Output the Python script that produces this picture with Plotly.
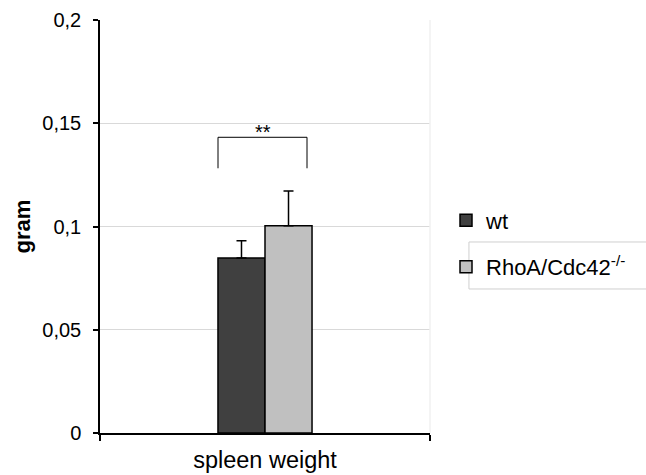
import plotly.graph_objects as go

categories = ["spleen weight"]
series_names = ["wt", "RhoA/Cdc42<sup>-/-</sup>"]
wt_values = [0.0847]
wt_errors = [0.0084]
ko_values = [0.1004]
ko_errors = [0.0168]
y_ticks = [0, 0.05, 0.1, 0.15, 0.2]
significance = "**"

FONT = "Liberation Sans, Arial, sans-serif"

fig = go.Figure()
fig.add_trace(go.Bar(
    x=categories, y=wt_values, name=series_names[0], legendgroup="a",
    marker=dict(color="#404040", line=dict(color="black", width=1.5)),
    error_y=dict(type="data", array=wt_errors, color="black", thickness=1.5, width=5, symmetric=False, arrayminus=[0]),
))
fig.add_trace(go.Bar(
    x=categories, y=ko_values, name=series_names[1], legendgroup="b",
    marker=dict(color="#c0c0c0", line=dict(color="black", width=1.5)),
    error_y=dict(type="data", array=ko_errors, color="black", thickness=1.5, width=5, symmetric=False, arrayminus=[0]),
))

# significance bracket
bx0, bx1 = -0.1424, 0.1273
by_top, by_leg = 0.1432, 0.1282
fig.add_shape(type="path", xref="x", yref="y",
              path=f"M {bx0},{by_leg} L {bx0},{by_top} L {bx1},{by_top} L {bx1},{by_leg}",
              line=dict(color="black", width=1))
fig.add_annotation(x=(bx0 + bx1) / 2, y=0.1458, xref="x", yref="y", text=significance,
                   showarrow=False, font=dict(size=20, color="black", family=FONT), yanchor="middle")

# faint plot border on right
fig.add_shape(type="line", xref="paper", yref="paper", x0=1, x1=1, y0=0, y1=1,
              line=dict(color="#f0f0f0", width=1.5))
# legend box around second entry
fig.add_shape(type="rect", xref="paper", yref="paper", x0=1.118, x1=1.75, y0=0.3487, y1=0.4625,
              line=dict(color="#cfcfcf", width=1))

fig.update_layout(
    width=646, height=475,
    margin=dict(l=100, r=216, t=20, b=42, autoexpand=False),
    plot_bgcolor="white", paper_bgcolor="white",
    separators=",.",
    barmode="group", bargap=0.715, bargroupgap=0,
    font=dict(family=FONT, color="black", size=20),
    showlegend=True,
    legend=dict(x=1.0485, xanchor="left", y=0.458, yanchor="middle",
                font=dict(size=22, family=FONT, color="black"),
                tracegroupgap=15, bgcolor="rgba(0,0,0,0)"),
)
fig.update_xaxes(
    automargin=False,
    showline=True, linecolor="black", linewidth=1.5,
    ticks="outside", tickson="boundaries", ticklen=6, tickcolor="black", tickwidth=1.5,
    tickfont=dict(size=23.5), ticklabelstandoff=5, showgrid=False,
)
fig.update_yaxes(
    automargin=False,
    range=[0, 0.2], tickvals=y_ticks,
    showline=True, linecolor="black", linewidth=1.5,
    ticks="outside", ticklen=5, tickcolor="black", tickwidth=1.5,
    showgrid=True, gridcolor="#d9d9d9", gridwidth=1,
    tickfont=dict(size=20), ticklabelstandoff=8,
    title=dict(text="<b>gram</b>", font=dict(size=22), standoff=6),
    zeroline=False,
)

fig.write_html("out.html")
